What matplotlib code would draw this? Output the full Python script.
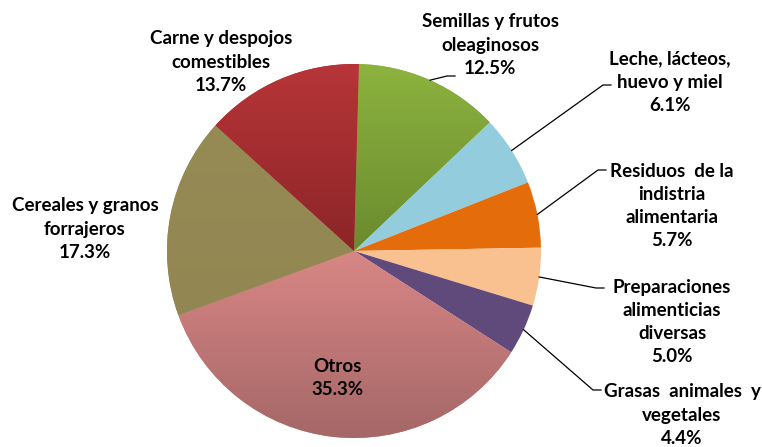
import numpy as np
import matplotlib
matplotlib.use('Agg')
import matplotlib.pyplot as plt
from matplotlib.colors import LinearSegmentedColormap

# data, clockwise from the top
labels = ['Semillas y frutos\noleaginosos', 'Leche, lácteos,\nhuevo y miel',
          'Residuos  de la\nindistria\nalimentaria', 'Preparaciones\nalimenticias\ndiversas',
          'Grasas  animales  y\nvegetales', 'Otros', 'Cereales y granos\nforrajeros',
          'Carne y despojos\ncomestibles']
shares = [12.5, 6.1, 5.7, 5.0, 4.4, 35.3, 17.3, 13.7]

# (top colour, bottom colour) per slice
colors = [('#8db33f', '#6a8a2e'), ('#93cddd', '#93cddd'), ('#e46c0a', '#e46c0a'),
          ('#f9c090', '#f9c090'), ('#604a7b', '#604a7b'), ('#d88785', '#a56767'),
          ('#968b55', '#928652'), ('#b73538', '#8c2527')]

# label centres in pixels (x, y from top) and leader line ends
label_pos = [(490, 45), (670, 82), (672, 206), (672, 322), (682, 415),
             (337, 378), (85, 229), (221, 62)]
leader_end = [(447, 76), (603, 85), (598, 170), (596, 288), (593, 390),
              None, None, None]

W, H = 762, 447
cx, cy, R = 354, 251, 187


def px(x, y):
    ''' pixel position -> data coords (pie radius = 1)'''
    return (x - cx) / R, (cy - y) / R


def main():
    plt.rcParams['font.family'] = ['Lato', 'DejaVu Sans']

    fig = plt.figure(figsize=(W / 100, H / 100), dpi=100)
    ax = fig.add_axes([0, 0, 1, 1])

    wedges, _ = ax.pie(shares, startangle=88.5, counterclock=False, radius=1,
                       colors=[c[0] for c in colors], wedgeprops=dict(linewidth=0))

    # vertical gradients clipped to each wedge
    for w, (top, bot) in zip(wedges, colors):
        if top == bot:
            continue
        ext = w.get_path().get_extents()
        cmap = LinearSegmentedColormap.from_list('g', [bot, top])
        grad = np.linspace(0, 1, 256).reshape(-1, 1)
        im = ax.imshow(grad, cmap=cmap, origin='lower', aspect='auto',
                       extent=[ext.x0, ext.x1, ext.y0, ext.y1], zorder=w.get_zorder() + 0.1)
        im.set_clip_path(w)

    total = sum(shares)
    start = 88.5
    for i, (lab, v) in enumerate(zip(labels, shares)):
        span = v / total * 360
        mid = np.radians(start - span / 2)
        start -= span
        tx, ty = px(*label_pos[i])
        ax.text(tx, ty, lab + '\n' + '%.1f%%' % v, ha='center', va='center',
                fontsize=13.5, fontweight='bold', linespacing=1.45, color='#000000', zorder=5)
        if leader_end[i] is not None:
            ex, ey = px(*leader_end[i])
            sx, sy = np.cos(mid), np.sin(mid)
            ax.plot([sx, ex, ex + 8 / R], [sy, ey, ey], color='black', linewidth=0.9, zorder=4)

    ax.set_xlim(-cx / R, (W - cx) / R)
    ax.set_ylim((cy - H) / R, cy / R)
    ax.axis('off')

    fig.savefig('out.png', dpi=100)
    plt.close()


if __name__ == '__main__':
    main()
